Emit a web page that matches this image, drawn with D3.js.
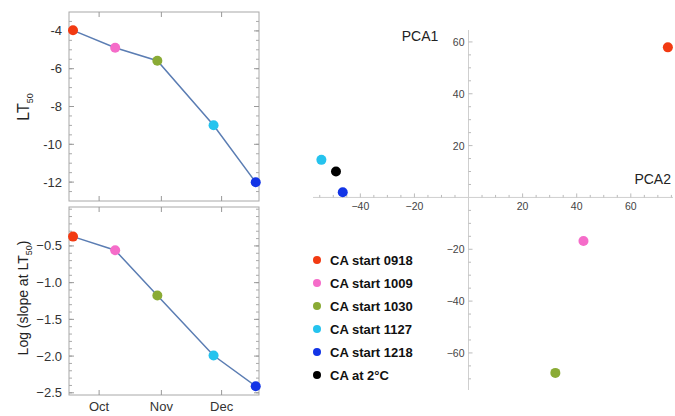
<!DOCTYPE html>
<html>
<head>
<meta charset="utf-8">
<script src="https://d3js.org/d3.v7.min.js"></script>
<style>
  body { margin: 0; background: #fff; }
  svg { font-family: "Liberation Sans", Arial, sans-serif; }
</style>
</head>
<body>
<div id="my_dataviz"></div>
<script>

// data
var series = ["CA start 0918", "CA start 1009", "CA start 1030", "CA start 1127", "CA start 1218", "CA at 2°C"];
var colors = ["#f23a12", "#f56cc9", "#8aab35", "#25c3ee", "#1234e6", "#000000"];
var startDates = ["2015-09-18", "2015-10-09", "2015-10-30", "2015-11-27", "2015-12-18"];
var lt50 = [-3.97, -4.89, -5.58, -8.99, -12.01];
var logSlope = [-0.373, -0.559, -1.176, -1.992, -2.41];
var monthTicks = ["2015-10-01", "2015-11-01", "2015-12-01"];
var monthLabels = ["Oct", "Nov", "Dec"];
var pca2 = [73.7, 42.5, 32.1, -54.4, -46.5, -49.0];
var pca1 = [57.9, -16.8, -67.7, 14.5, 2.0, 10.0];

var parse = d3.timeParse("%Y-%m-%d");

var svg = d3.select("#my_dataviz")
  .append("svg")
    .attr("width", 675)
    .attr("height", 416);

// shared time scale for the two left panels
var x = d3.scaleTime()
  .domain([new Date(2015, 8, 16), new Date(2015, 11, 19, 15)])
  .range([69, 259]);

function panel(top, bottom, yDomain, values, majorTicks, minorTicks, fmt, showMonths) {
  var y = d3.scaleLinear().domain(yDomain).range([bottom, top]);
  var g = svg.append("g");

  g.append("rect")
    .attr("x", 69).attr("y", top)
    .attr("width", 190).attr("height", bottom - top)
    .attr("fill", "none")
    .attr("stroke", "#a8a8a8");

  // minor ticks left / right
  minorTicks.forEach(function(v) {
    g.append("line").attr("x1", 69).attr("x2", 72).attr("y1", y(v)).attr("y2", y(v)).attr("stroke", "#aaa");
    g.append("line").attr("x1", 259).attr("x2", 256).attr("y1", y(v)).attr("y2", y(v)).attr("stroke", "#aaa");
  });
  majorTicks.forEach(function(v) {
    g.append("line").attr("x1", 69).attr("x2", 74).attr("y1", y(v)).attr("y2", y(v)).attr("stroke", "#999");
    g.append("line").attr("x1", 259).attr("x2", 254).attr("y1", y(v)).attr("y2", y(v)).attr("stroke", "#999");
    g.append("text")
      .attr("x", 62).attr("y", y(v) + 4.5)
      .attr("text-anchor", "end")
      .attr("font-size", 13)
      .attr("fill", "#333")
      .text(fmt(v));
  });

  // month ticks top / bottom
  monthTicks.forEach(function(m, i) {
    var px = x(parse(m));
    g.append("line").attr("x1", px).attr("x2", px).attr("y1", top).attr("y2", top + 5).attr("stroke", "#999");
    g.append("line").attr("x1", px).attr("x2", px).attr("y1", bottom).attr("y2", bottom - 5).attr("stroke", "#999");
    if (showMonths) {
      g.append("text")
        .attr("x", px).attr("y", bottom + 16)
        .attr("text-anchor", "middle")
        .attr("font-size", 13)
        .attr("fill", "#333")
        .text(monthLabels[i]);
    }
  });

  var pts = startDates.map(function(d, i) { return [x(parse(d)), y(values[i])]; });

  g.append("path")
    .attr("d", d3.line()(pts))
    .attr("fill", "none")
    .attr("stroke", "#5b7db3")
    .attr("stroke-width", 1.5);

  g.selectAll("circle")
    .data(pts)
    .enter()
    .append("circle")
      .attr("cx", function(d) { return d[0]; })
      .attr("cy", function(d) { return d[1]; })
      .attr("r", 5)
      .attr("fill", function(d, i) { return colors[i]; });
}

panel(12, 201, [-13, -3], lt50,
  [-4, -6, -8, -10, -12],
  d3.range(-12.5, -3, 0.5),
  function(v) { return v.toString(); }, false);

panel(207, 395, [-2.53, 0.03], logSlope,
  [-0.5, -1.0, -1.5, -2.0, -2.5],
  d3.range(-2.5, 0.01, 0.1),
  d3.format(".1f"), true);

// y titles
var t1 = svg.append("text")
  .attr("transform", "translate(29,107) rotate(-90)")
  .attr("text-anchor", "middle")
  .attr("font-size", 16)
  .attr("fill", "#222");
t1.append("tspan").text("LT");
t1.append("tspan").attr("font-size", 9).attr("dy", 4).text("50");

var t2 = svg.append("text")
  .attr("transform", "translate(28,298) rotate(-90)")
  .attr("text-anchor", "middle")
  .attr("font-size", 14)
  .attr("fill", "#222");
t2.append("tspan").text("Log (slope at LT");
t2.append("tspan").attr("font-size", 9).attr("dy", 4).text("50");
t2.append("tspan").attr("dy", -4).text(")");

// PCA panel
var px = d3.scaleLinear().domain([-57.5, 75.6]).range([313, 673]);
var py = d3.scaleLinear().domain([-74.3, 64.6]).range([390, 30]);
var pg = svg.append("g");

pg.append("line").attr("x1", px(-57.5)).attr("x2", px(75.6)).attr("y1", py(0)).attr("y2", py(0)).attr("stroke", "#cfcfcf");
pg.append("line").attr("x1", px(0)).attr("x2", px(0)).attr("y1", py(64.6)).attr("y2", py(-74.3)).attr("stroke", "#cfcfcf");

d3.range(-55, 76, 5).forEach(function(v) {
  if (v === 0) return;
  var major = v % 20 === 0;
  pg.append("line").attr("x1", px(v)).attr("x2", px(v))
    .attr("y1", py(0)).attr("y2", py(0) - (major ? 4 : 2.5)).attr("stroke", "#bbb");
  if (major) {
    pg.append("text").attr("x", px(v)).attr("y", py(0) + 13)
      .attr("text-anchor", "middle").attr("font-size", 10.5).attr("fill", "#444")
      .text(d3.format("")(v).replace("-", "\u2212"));
  }
});
d3.range(-70, 65, 5).forEach(function(v) {
  if (v === 0) return;
  var major = v % 20 === 0;
  pg.append("line").attr("x1", px(0)).attr("x2", px(0) + (major ? 4 : 2.5))
    .attr("y1", py(v)).attr("y2", py(v)).attr("stroke", "#bbb");
  if (major) {
    pg.append("text").attr("x", px(0) - 4).attr("y", py(v) + 4)
      .attr("text-anchor", "end").attr("font-size", 10.5).attr("fill", "#444")
      .text(d3.format("")(v).replace("-", "\u2212"));
  }
});

pg.append("text").attr("x", 420).attr("y", 41).attr("text-anchor", "middle")
  .attr("font-size", 14).attr("fill", "#222").text("PCA1");
pg.append("text").attr("x", 671).attr("y", 184).attr("text-anchor", "end")
  .attr("font-size", 14).attr("fill", "#222").text("PCA2");

pg.selectAll("circle")
  .data(pca2)
  .enter()
  .append("circle")
    .attr("cx", function(d) { return px(d); })
    .attr("cy", function(d, i) { return py(pca1[i]); })
    .attr("r", 5)
    .attr("fill", function(d, i) { return colors[i]; });

// legend
var lg = svg.append("g");
series.forEach(function(s, i) {
  var ly = 260 + i * 23;
  lg.append("circle").attr("cx", 317).attr("cy", ly).attr("r", 4).attr("fill", colors[i]);
  lg.append("text").attr("x", 330).attr("y", ly + 4.5)
    .attr("font-size", 13).attr("font-weight", "bold").attr("fill", "#111").text(s);
});

</script>
</body>
</html>
